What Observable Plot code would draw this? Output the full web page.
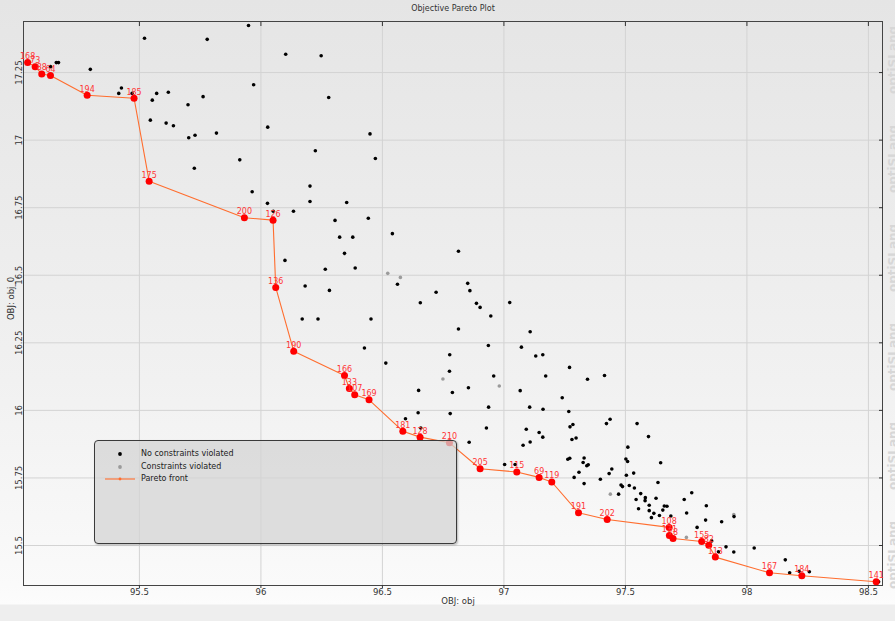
<!DOCTYPE html>
<html>
<head>
<meta charset="utf-8">
<script src="https://cdn.jsdelivr.net/npm/d3@7"></script>
<script src="https://cdn.jsdelivr.net/npm/@observablehq/plot@0.6"></script>
<style>
  html, body { margin: 0; padding: 0; }
  body { width: 895px; height: 621px; overflow: hidden; font-family: "DejaVu Sans", sans-serif; }
  #chart {
    position: relative; width: 895px; height: 621px;
    background: linear-gradient(to bottom, #e5e5e5 0px, #f1f1f1 380px, #fafafa 585px, #fcfcfc 604px, #eeeeee 605px, #eeeeee 621px);
  }
  #chart > svg { position: absolute; left: 0; top: 0; overflow: visible; }
  .legend {
    position: absolute; left: 94px; top: 440px; width: 361px; height: 102px;
    background: rgba(212, 212, 212, 0.74);
    border: 1.3px solid #3a3a3a; border-radius: 4px;
    box-shadow: 1px 1px 2px rgba(0, 0, 0, 0.25);
  }
  .legend .row { position: absolute; left: 10px; height: 10px; line-height: 10px; font-size: 8px; color: #222; white-space: nowrap; }
  .legend .row svg { position: absolute; left: 0; top: 0; }
  .legend .row span { position: absolute; left: 36px; top: 0; }
</style>
</head>
<body>
<div id="chart"></div>
<script>
// Axis ticks and their labels
const xTicks = [95.5, 96, 96.5, 97, 97.5, 98, 98.5];
const xTickLabels = ["95.5", "96", "96.5", "97", "97.5", "98", "98.5"];
const yTicks = [15.5, 15.75, 16, 16.25, 16.5, 16.75, 17, 17.25];
const yTickLabels = ["15.5", "15.75", "16", "16.25", "16.5", "16.75", "17", "17.25"];

// Designs without constraint violations (obj, obj_0)
const feasibleX = [
  95.158, 95.167, 95.134, 95.298, 95.521, 95.779, 95.949, 96.102, 95.970, 95.426,
  95.415, 95.470, 95.571, 95.619, 95.553, 95.762, 95.700, 95.545, 95.610, 95.640,
  96.028, 95.703, 95.729, 95.817, 95.913, 95.726, 95.964, 96.027, 96.051, 96.134,
  96.099, 96.248, 96.279, 96.449, 96.224, 96.471, 96.202, 96.202, 96.353, 96.305,
  96.442, 96.324, 96.378, 96.541, 96.813, 96.344, 96.265, 96.388, 96.562, 96.851,
  96.860, 96.182, 96.282, 96.721, 96.656, 96.170, 96.235, 96.453, 96.813, 96.426,
  96.777, 96.514, 96.776, 96.649, 96.788, 96.854, 96.647, 96.779, 96.595, 96.887,
  96.902, 97.024, 96.946, 97.108, 96.936, 97.072, 97.131, 97.160, 96.958, 97.270,
  97.172, 97.344, 97.414, 97.067, 97.240, 96.937, 97.106, 97.161, 97.267, 96.658,
  96.928, 97.092, 97.272, 97.284, 97.437, 97.422, 97.548, 97.145, 97.160, 97.280,
  97.297, 97.595, 96.857, 97.108, 97.079, 97.510, 97.263, 97.271, 97.330, 97.326,
  97.347, 97.341, 97.309, 97.289, 97.330, 97.397, 97.433, 97.444, 97.502, 97.509,
  97.645, 97.534, 97.504, 97.482, 97.488, 97.516, 97.537, 97.472, 97.563, 97.582,
  97.581, 97.544, 97.598, 97.554, 97.626, 97.634, 97.598, 97.617, 97.640, 97.607,
  97.654, 97.660, 97.671, 97.687, 97.003, 97.046, 97.742, 97.773, 97.752, 97.833,
  97.830, 97.896, 97.947, 97.795, 97.855, 97.883, 97.914, 97.946, 98.030, 98.158,
  98.176, 98.215, 98.257, 98.542
];
const feasibleY = [
  17.287, 17.287, 17.272, 17.262, 17.377, 17.373, 17.424, 17.318, 17.205, 17.193,
  17.173, 17.173, 17.173, 17.177, 17.148, 17.161, 17.131, 17.074, 17.063, 17.053,
  17.048, 17.009, 17.018, 17.026, 16.927, 16.896, 16.809, 16.766, 16.737, 16.737,
  16.555, 17.312, 17.158, 17.023, 16.961, 16.932, 16.830, 16.773, 16.769, 16.703,
  16.711, 16.641, 16.641, 16.654, 16.589, 16.581, 16.522, 16.527, 16.467, 16.470,
  16.443, 16.460, 16.444, 16.437, 16.398, 16.338, 16.338, 16.338, 16.301, 16.231,
  16.206, 16.175, 16.145, 16.074, 16.066, 16.084, 15.991, 15.988, 15.969, 16.396,
  16.381, 16.399, 16.349, 16.291, 16.240, 16.234, 16.201, 16.206, 16.127, 16.159,
  16.127, 16.115, 16.129, 16.073, 16.047, 16.012, 16.012, 16.004, 15.996, 15.935,
  15.935, 15.930, 15.939, 15.948, 15.967, 15.951, 15.951, 15.918, 15.901, 15.892,
  15.898, 15.903, 15.882, 15.883, 15.871, 15.864, 15.819, 15.823, 15.824, 15.807,
  15.799, 15.795, 15.771, 15.752, 15.729, 15.745, 15.766, 15.783, 15.820, 15.811,
  15.806, 15.768, 15.760, 15.724, 15.718, 15.722, 15.713, 15.690, 15.692, 15.677,
  15.666, 15.670, 15.649, 15.636, 15.675, 15.733, 15.629, 15.619, 15.611, 15.603,
  15.631, 15.646, 15.645, 15.609, 15.800, 15.800, 15.670, 15.695, 15.620, 15.647,
  15.594, 15.588, 15.607, 15.567, 15.517, 15.477, 15.495, 15.476, 15.491, 15.447,
  15.399, 15.405, 15.403, 15.366
];

// Designs that violate constraints
const violatedX = [96.522, 96.574, 96.749, 96.981, 97.438, 97.751, 97.946];
const violatedY = [16.507, 16.492, 16.116, 16.090, 15.690, 15.530, 15.615];

// Pareto-optimal designs, ordered along the front
const paretoIds = ["168", "73", "88", "64", "194", "185", "175", "200", "126", "136", "190",
  "166", "133", "107", "169", "181", "128", "210", "205", "115", "69", "119",
  "191", "202", "108", "171", "78", "155", "82", "113", "167", "184", "141"];
const paretoX = [95.040, 95.071, 95.098, 95.134, 95.285, 95.478, 95.540, 95.932, 96.050, 96.061, 96.135,
  96.344, 96.364, 96.386, 96.445, 96.584, 96.655, 96.776, 96.902, 97.053, 97.145, 97.197,
  97.307, 97.425, 97.680, 97.681, 97.696, 97.814, 97.843, 97.870, 98.093, 98.226, 98.532];
const paretoY = [17.287, 17.272, 17.245, 17.239, 17.166, 17.155, 16.848, 16.713, 16.704, 16.455, 16.219,
  16.129, 16.081, 16.058, 16.039, 15.923, 15.901, 15.880, 15.784, 15.772, 15.752, 15.735,
  15.621, 15.596, 15.567, 15.537, 15.526, 15.515, 15.501, 15.457, 15.399, 15.388, 15.366];

const feasible = feasibleX.map((x, i) => ({x, y: feasibleY[i]}));
const violated = violatedX.map((x, i) => ({x, y: violatedY[i]}));
const pareto = paretoX.map((x, i) => ({x, y: paretoY[i], id: paretoIds[i]}));

const frontColor = "#ff6d2e";

const plot = Plot.plot({
  width: 895,
  height: 621,
  marginLeft: 23,
  marginRight: 13,
  marginTop: 21,
  marginBottom: 36,
  x: {domain: [95.023, 98.558], label: null},
  y: {domain: [15.352, 17.439], label: null},
  style: {background: "transparent", fontFamily: "DejaVu Sans", fontSize: "8.5px", color: "#333", overflow: "visible"},
  marks: [
    Plot.gridX(xTicks, {stroke: "#d3d3d3", strokeOpacity: 1}),
    Plot.gridY(yTicks, {stroke: "#d3d3d3", strokeOpacity: 1}),
    Plot.frame({stroke: "#444", strokeWidth: 1}),
    Plot.axisX(xTicks, {anchor: "bottom", tickSize: 3, tickPadding: 0, label: null,
      tickFormat: d => xTickLabels[xTicks.indexOf(d)]}),
    Plot.axisX(xTicks, {anchor: "top", tickSize: 4, dy: 4, label: null, tickFormat: () => ""}),
    Plot.axisY(yTicks, {anchor: "right", tickSize: 4, dx: -4, label: null, tickFormat: () => ""}),
    Plot.text(yTicks, {y: d => d, frameAnchor: "left", dx: -1.5, rotate: -90,
      text: d => yTickLabels[yTicks.indexOf(d)], textAnchor: "middle", lineAnchor: "bottom", fill: "#333"}),
    Plot.text(["OBJ: obj"], {frameAnchor: "bottom", dx: 5, dy: 18.5, lineAnchor: "bottom",
      text: d => d, fill: "#333", fontSize: 8.5}),
    Plot.text(["OBJ: obj_0"], {frameAnchor: "left", dx: -10, dy: -5, rotate: -90, lineAnchor: "bottom",
      textAnchor: "middle", text: d => d, fill: "#333", fontSize: 8.5}),
    Plot.text(["Objective Pareto Plot"], {frameAnchor: "top", dy: -11, lineAnchor: "bottom",
      text: d => d, fill: "#333", fontSize: 8}),
    Plot.dot(violated, {x: "x", y: "y", r: 1.8, fill: "#9b9b9b", stroke: "none"}),
    Plot.dot(feasible, {x: "x", y: "y", r: 1.8, fill: "#000", stroke: "none"}),
    Plot.line(pareto, {x: "x", y: "y", stroke: frontColor, strokeWidth: 1.1}),
    Plot.dot(pareto, {x: "x", y: "y", r: 3.5, fill: "#ff0000", stroke: "none"}),
    Plot.text(pareto, {x: "x", y: "y", text: "id", dy: -3.5, lineAnchor: "bottom", fill: "#ff3535", fontSize: 8})
  ]
});

const chart = document.getElementById("chart");
chart.appendChild(plot);

// Vendor watermark running down the right edge
const mark = d3.select(plot).append("g")
  .attr("font-family", "DejaVu Sans")
  .attr("font-weight", "bold")
  .attr("font-size", 12)
  .attr("fill", "#d7d7d7")
  .attr("text-anchor", "middle");
d3.range(6).forEach(i => {
  const cy = 60 + i * 99;
  mark.append("text")
    .attr("transform", `translate(897,${cy}) rotate(-90)`)
    .text("optiSLang");
});

// Legend box overlaid on the lower left of the plot
const legend = document.createElement("div");
legend.className = "legend";
legend.innerHTML = `
  <div class="row" style="top:8px"><svg width="30" height="10"><circle cx="15" cy="5" r="1.9" fill="#000"/></svg><span>No constraints violated</span></div>
  <div class="row" style="top:21px"><svg width="30" height="10"><circle cx="15" cy="5" r="1.9" fill="#9b9b9b"/></svg><span>Constraints violated</span></div>
  <div class="row" style="top:33px"><svg width="30" height="10"><line x1="0" x2="30" y1="5" y2="5" stroke="${frontColor}" stroke-width="1.1"/><circle cx="15" cy="5" r="1.4" fill="${frontColor}"/></svg><span>Pareto front</span></div>`;
chart.appendChild(legend);
</script>
</body>
</html>
